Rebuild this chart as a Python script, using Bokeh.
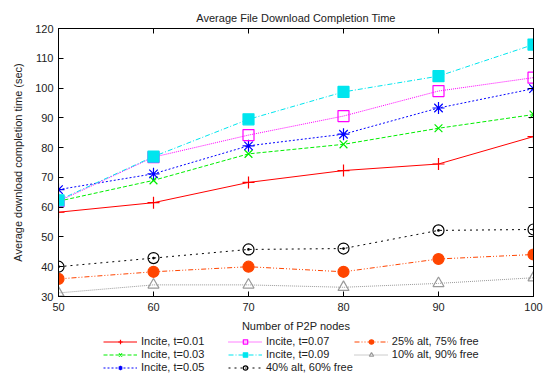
from bokeh.plotting import figure
from bokeh.layouts import column
from bokeh.models import Legend, LegendItem, LinearAxis, Range1d, FixedTicker
from bokeh.embed import file_html
from bokeh.resources import INLINE

nodes = [50, 60, 70, 80, 90, 100]
incite_001 = [58.3, 61.5, 68.3, 72.3, 74.5, 83.7]
incite_003 = [62.0, 69.0, 77.9, 81.1, 86.5, 91.1]
incite_005 = [65.9, 71.2, 80.6, 84.5, 93.3, 99.8]
incite_007 = [62.0, 76.8, 84.2, 90.6, 99.0, 103.5]
incite_009 = [62.3, 77.0, 89.5, 98.7, 104.0, 114.6]
alt40_free60 = [40.0, 42.9, 45.8, 46.1, 52.2, 52.5]
alt25_free75 = [35.9, 38.3, 40.0, 38.3, 42.6, 44.1]
alt10_free90 = [31.2, 33.9, 33.9, 33.1, 34.4, 36.3]
x_ticks = [50, 60, 70, 80, 90, 100]
y_ticks = [30, 40, 50, 60, 70, 80, 90, 100, 110, 120]

FONT = "Liberation Sans"

p = figure(width=545, height=334, output_backend="svg", toolbar_location=None,
           x_range=Range1d(50, 100), y_range=Range1d(30, 120),
           title="Average File Download Completion Time",
           min_border_left=58, min_border_right=12, min_border_top=28, min_border_bottom=36)
p.title.align = "center"
p.title.text_font = FONT
p.title.text_font_style = "normal"
p.title.text_font_size = "11px"
p.title.text_color = "#222222"
p.xgrid.visible = False
p.ygrid.visible = False
p.outline_line_color = "black"
p.outline_line_width = 1

for ax in p.xaxis + p.yaxis:
    ax.major_tick_in = 5
    ax.major_tick_out = 0
    ax.minor_tick_in = 0
    ax.minor_tick_out = 0
    ax.major_label_text_font = FONT
    ax.major_label_text_font_size = "11px"
    ax.major_label_text_color = "#222222"
    ax.axis_label_text_font = FONT
    ax.axis_label_text_font_size = "11px"
    ax.axis_label_text_font_style = "normal"
    ax.axis_label_text_color = "#222222"
    ax.axis_line_color = "black"
p.xaxis.ticker = FixedTicker(ticks=x_ticks)
p.yaxis.ticker = FixedTicker(ticks=y_ticks)
p.xaxis.axis_label = "Number of P2P nodes"
p.yaxis.axis_label = "Average download completion time (sec)"
p.xaxis.axis_label_standoff = 6
p.yaxis.axis_label_standoff = 8
p.xaxis.major_label_standoff = 6

top_ax = LinearAxis(ticker=FixedTicker(ticks=x_ticks), major_tick_in=5, major_tick_out=0,
                    minor_tick_in=0, minor_tick_out=0,
                    major_label_overrides={t: "" for t in x_ticks},
                    major_label_standoff=0, axis_line_color="black")
right_ax = LinearAxis(ticker=FixedTicker(ticks=y_ticks), major_tick_in=5, major_tick_out=0,
                      minor_tick_in=0, minor_tick_out=0,
                      major_label_overrides={t: "" for t in y_ticks},
                      major_label_standoff=0, axis_line_color="black")
p.add_layout(top_ax, "above")
p.add_layout(right_ax, "right")

series = [
    ("Incite, t=0.01", incite_001, "#ff0000", "solid", "cross", False, 12),
    ("Incite, t=0.03", incite_003, "#00ee00", "4 2", "x", False, 11),
    ("Incite, t=0.05", incite_005, "#0000ff", "2 2", "asterisk", False, 12),
    ("Incite, t=0.07", incite_007, "#ff00ff", "1 1", "square", False, 11),
    ("Incite, t=0.09", incite_009, "#00e5ee", "5 2 1 2", "square", True, 11),
    ("40% alt, 60% free", alt40_free60, "#000000", "2 4", "circle_dot", False, 11),
    ("25% alt, 75% free", alt25_free75, "#ff4500", "5 2 1 2 1 2", "circle", True, 11),
    ("10% alt, 90% free", alt10_free90, "#999999", "1 1", "triangle", False, 11),
]

# legend-only figure below the chart (its ranges keep the data out of view)
lf = figure(width=545, height=42, output_backend="svg", toolbar_location=None,
            x_range=Range1d(0, 1), y_range=Range1d(0, 1),
            min_border_left=0, min_border_right=0, min_border_top=0, min_border_bottom=0)
lf.axis.visible = False
lf.xgrid.visible = False
lf.ygrid.visible = False
lf.outline_line_color = None

items = []
for label, ys, color, dash, marker, filled, size in series:
    p.line(nodes, ys, line_color=color, line_dash=dash, line_width=1)
    p.scatter(nodes, ys, marker=marker, size=size, line_color=color, line_width=1.2,
              fill_color=color if filled else None)
    l = lf.line(nodes, ys, line_color=color, line_dash=dash, line_width=1)
    s = lf.scatter(nodes, ys, marker=marker, size=size, line_color=color, line_width=1.2,
                   fill_color=color if filled else None)
    items.append(LegendItem(label=label, renderers=[l, s]))

legend = Legend(items=items, location=(45, 3), orientation="vertical", nrows=3,
                label_text_font=FONT, label_text_font_size="11px", label_text_color="#222222",
                label_height=11, glyph_height=11, glyph_width=34, spacing=1,
                label_width=86, padding=0, margin=0, border_line_color=None,
                background_fill_alpha=0, label_standoff=4)
lf.add_layout(legend, "center")

layout = column(p, lf, spacing=0)
open("out.html", "w").write(file_html(layout, INLINE))
